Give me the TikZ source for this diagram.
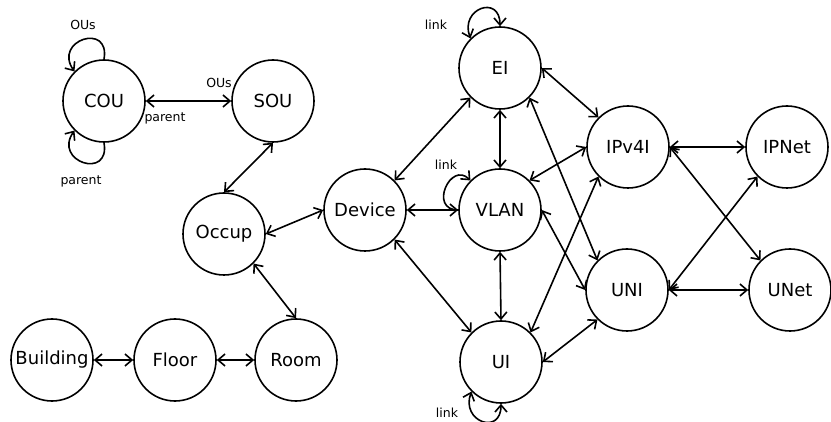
\documentclass[tikz,border=0pt]{standalone}
\usepackage{fontspec}
\setmainfont{DejaVu Sans}
\usetikzlibrary{arrows.meta}
\begin{document}
\begin{tikzpicture}[x=1pt,y=1pt,
  ent/.style={circle, draw, line width=1.6pt, minimum size=82pt, inner sep=0pt,
    font=\fontsize{18}{20}\selectfont},
  barb/.tip={Straight Barb[length=7pt,width=12pt]},
  rel/.style={line width=1.6pt, barb-barb},
  selfrel/.style={line width=1.6pt, -barb},
  selfboth/.style={line width=1.6pt, barb-barb},
  lbl/.style={font=\fontsize{12.5}{14}\selectfont, inner sep=0pt}]
\useasboundingbox (0,0) rectangle (831,-422);
\fill[white] (0,0) rectangle (831,-422);

% entities
\node[ent] (COU) at (104,-101) {COU};
\node[ent] (SOU) at (273,-101) {SOU};
\node[ent] (Occup) at (224,-234) {Occup};
\node[ent] (Device) at (365,-210) {Device};
\node[ent] (EI) at (500,-68) {EI};
\node[ent] (VLAN) at (500,-210) {VLAN};
\node[ent] (UI) at (501,-362) {UI};
\node[ent] (IPv4I) at (628,-147) {IPv4I};
\node[ent] (IPNet) at (787,-147) {IPNet};
\node[ent] (UNI) at (627,-290) {UNI};
\node[ent] (UNet) at (790,-290) {UNet};
\node[ent] (Building) at (52,-360) {Building};
\node[ent] (Floor) at (175,-360) {Floor};
\node[ent] (Room) at (296,-360) {Room};

% relations
\draw[rel] (COU.east) -- (SOU.west);
\draw[rel] (SOU.south) -- (Occup.north);
\draw[rel] (Occup.east) -- (Device.west);
\draw[rel] (Occup.south east) -- (Room.north);
\draw[rel] (Building.east) -- (Floor.west);
\draw[rel] (Floor.east) -- (Room.west);
\draw[rel] (Device.north east) -- (EI.south west);
\draw[rel] (Device.east) -- (VLAN.west);
\draw[rel] (Device.south east) -- (UI.north west);
\draw[rel] (EI.south) -- (VLAN.north);
\draw[rel] (VLAN.south) -- (UI.north);
\draw[rel] (EI.east) -- (IPv4I.north west);
\draw[rel] (EI.south east) -- (UNI.north west);
\draw[rel] (VLAN.north east) -- (IPv4I.west);
\draw[rel] (VLAN.east) -- (UNI.west);
\draw[rel] (UI.north east) -- (IPv4I.south west);
\draw[rel] (UI.east) -- (UNI.south west);
\draw[rel] (IPv4I.east) -- (IPNet.west);
\draw[rel] (IPv4I.east) -- (UNet.north west);
\draw[rel] (UNI.east) -- (IPNet.south west);
\draw[rel] (UNI.east) -- (UNet.west);

% self relations
\draw[selfrel] (COU.north) .. controls +(80:38) and +(125:38) .. (COU.north west);
\draw[selfrel] (COU.south) .. controls +(-80:38) and +(-125:38) .. (COU.south west);
\draw[selfboth] (EI.north west) .. controls +(110:32) and +(90:32) .. (EI.north);
\draw[selfrel] (VLAN.west) .. controls +(180:30) and +(135:28) .. (VLAN.north west);
\draw[selfboth] (UI.south west) .. controls +(-110:32) and +(-90:32) .. (UI.south);

% relation labels
\node[lbl] (couOUs) at (83,-25) {OUs};
\node[lbl] (couParent) at (81,-181) {parent};
\node[lbl] (souOUs) at (219,-83) {OUs};
\node[lbl] (souParent) at (165,-118) {parent};
\node[lbl] (eiLink) at (436,-25) {link};
\node[lbl] (vlanLink) at (446,-165) {link};
\node[lbl] (uiLink) at (447,-413) {link};
\end{tikzpicture}
\end{document}
